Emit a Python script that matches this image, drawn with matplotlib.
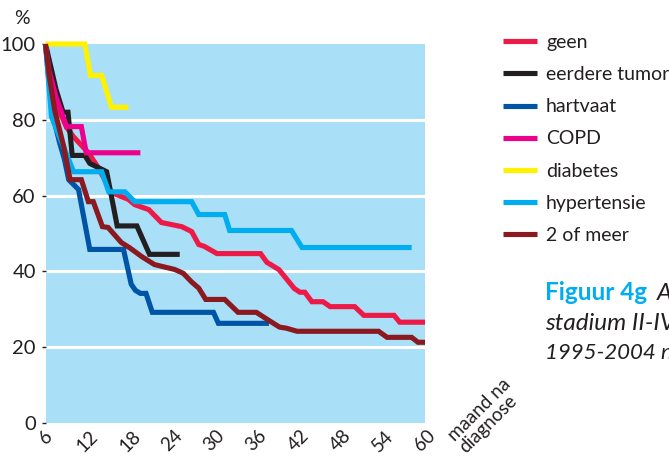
import matplotlib
matplotlib.use("Agg")
import matplotlib.pyplot as plt

# overleving (%) per maand na diagnose
geen_x = [6, 6.8, 7.8, 9, 10, 12.1, 13.5, 15.4, 17.8, 18.7, 20.7, 22.5, 25.4, 26.8, 27.8, 28.6,
          30.4, 36.6, 37.5, 39.2, 41.4, 42.2, 42.9, 43.9, 45.5, 46.5, 50, 51.3, 55.6, 56.4, 60]
geen_y = [100, 90, 83, 78, 75.5, 71.3, 67.4, 60.8, 59, 57.6, 56.3, 52.9, 51.8, 50.5, 47.1, 46.6,
          44.7, 44.7, 42.4, 40.5, 35.5, 34.5, 34.5, 32, 32, 30.7, 30.7, 28.4, 28.4, 26.6, 26.6]

tumor_x = [6, 7.5, 8.5, 9.2, 9.8, 11.6, 12.3, 14.7, 16.2, 19, 20.8, 25.1]
tumor_y = [100, 88, 82, 82, 70.6, 70.6, 68.5, 66.3, 52, 52, 44.5, 44.5]

hart_x = [6, 6.5, 7.2, 8, 8.7, 9.3, 10, 10.7, 12.3, 17.1, 18.2, 18.8, 19.5, 20.3, 21.2, 29.9, 30.6, 37.8]
hart_y = [100, 90, 80, 74, 69.5, 64.2, 62.9, 61.6, 45.8, 45.8, 36.6, 35, 34.2, 34.2, 29.2, 29.2, 26.3, 26.3]

copd_x = [6, 6.5, 7.5, 9, 11.1, 11.8, 19.5]
copd_y = [100, 93, 86, 78.2, 78.2, 71.3, 71.3]

diab_x = [6, 11.6, 12.4, 14, 15.4, 17.8]
diab_y = [100, 100, 91.7, 91.7, 83.3, 83.3]

hyper_x = [6, 6.85, 10, 14, 15, 17.3, 18.7, 26.8, 27.8, 31.5, 32.2, 41, 42.5, 58.1]
hyper_y = [100, 80.8, 66.3, 66.3, 61, 61, 58.4, 58.4, 55, 55, 50.8, 50.8, 46.3, 46.3]

meer_x = [6, 6.5, 7.3, 8.6, 9.5, 11.1, 12.1, 12.8, 14.1, 14.9, 16.8, 18, 19.7, 21.5, 24.4, 25.6,
          26.8, 27.8, 28.8, 31.5, 33.4, 36, 37.5, 39.3, 40.3, 41.8, 53.4, 54.6, 58.1, 59, 60]
meer_y = [100, 92, 82.6, 72.9, 64.2, 64.2, 58.4, 58.4, 51.8, 51.6, 47.6, 46.2, 43.9, 41.8, 40.5, 39.5,
          37.2, 35.6, 32.6, 32.6, 29.2, 29.2, 27.4, 25.3, 25, 24.2, 24.2, 22.6, 22.6, 21.3, 21.3]

labels = ["geen", "eerdere tumor", "hartvaat", "COPD", "diabetes", "hypertensie", "2 of meer"]
colors = ["#ed1a47", "#231f20", "#0054a6", "#ec008c", "#fff200", "#00aeef", "#8b1a20"]
xticks = [6, 12, 18, 24, 30, 36, 42, 48, 54, 60]
yticks = [0, 20, 40, 60, 80, 100]

series = [(geen_x, geen_y), (tumor_x, tumor_y), (hart_x, hart_y), (copd_x, copd_y),
          (diab_x, diab_y), (hyper_x, hyper_y), (meer_x, meer_y)]

plt.rcParams['font.family'] = ['Lato', 'DejaVu Sans']
txt = "#231f20"

fig = plt.figure(figsize=(6.69, 4.58), dpi=100)
ax = fig.add_axes([45.5/669, 35/458, (425-45.5)/669, (423-44)/458])
ax.set_facecolor("#aadff8")

for yv in yticks[1:-1]:
    ax.axhline(yv, color="white", lw=2.2, zorder=1)

for (xs, ys), lab, c in zip(series, labels, colors):
    ax.plot(xs, ys, color=c, lw=3.7, label=lab, solid_joinstyle="miter",
            solid_capstyle="butt", zorder=3, clip_on=False)

ax.set_xlim(6, 60)
ax.set_ylim(0, 100)
for s in ax.spines.values():
    s.set_visible(False)

ax.set_yticks(yticks)
ax.set_yticklabels([str(v) for v in yticks], fontsize=14.5, color=txt)
ax.tick_params(axis="y", length=3, width=1, color=txt, pad=4)
ax.set_xticks(xticks)
ax.set_xticklabels([str(v) for v in xticks], fontsize=13.5, color=txt,
                   rotation=45, ha="center", va="top")
ax.tick_params(axis="x", length=0, pad=3)

fig.text(22/669, 1 - 18/458, "%", fontsize=14, color=txt, ha="center", va="center")
fig.text(485/669, 1 - 416/458, "maand na\ndiagnose", fontsize=13.5, color=txt,
         rotation=45, ha="center", va="center", multialignment="left", linespacing=1.0)

leg = ax.legend(loc="upper left", bbox_to_anchor=(503/669, 1 - 34/458),
                bbox_transform=fig.transFigure, frameon=False, fontsize=14,
                handlelength=1.75, handletextpad=0.46, labelspacing=0.78,
                borderpad=0, borderaxespad=0)
for t in leg.get_texts():
    t.set_color(txt)

# onderschrift loopt in het origineel door buiten het beeld
fig.text(545/669, 1 - 293/458, "Figuur 4g", fontsize=17.5, fontweight="bold",
         color="#00aeef", ha="left", va="center")
fig.text(657/669, 1 - 293/458, "A", fontsize=17.5, style="italic", color=txt,
         ha="left", va="center")
fig.text(545/669, 1 - 323/458, "stadium II-IV", fontsize=17.5, style="italic", color=txt,
         ha="left", va="center")
fig.text(545/669, 1 - 353/458, "1995-2004 n", fontsize=16, style="italic", color=txt,
         ha="left", va="center")

fig.savefig("out.png", dpi=100)
